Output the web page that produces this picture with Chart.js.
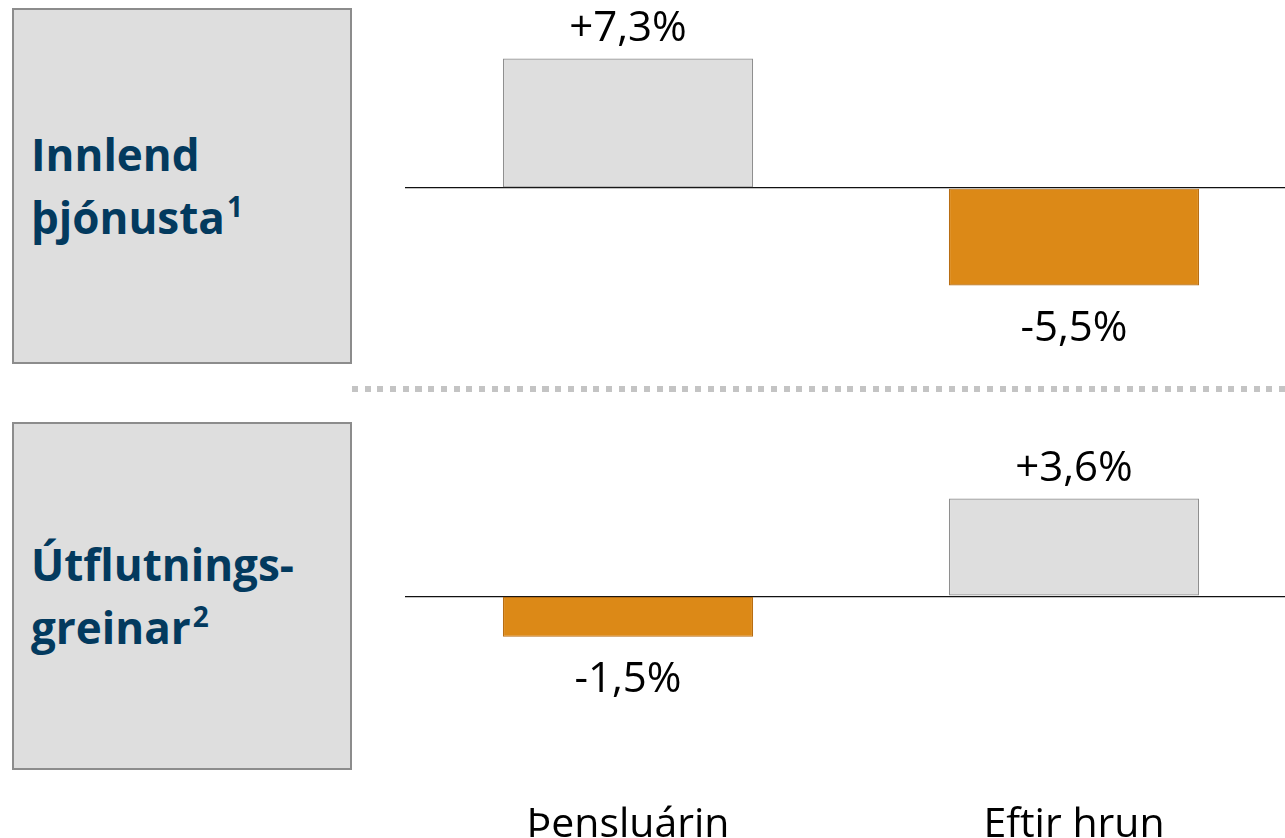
<!DOCTYPE html>
<html>
<head>
<meta charset="utf-8">
<script src="https://cdn.jsdelivr.net/npm/chart.js@4"></script>
<style>
  html, body { margin: 0; padding: 0; background: #fff; overflow: hidden; }
  body { width: 1285px; height: 838px; position: relative; font-family: 'Open Sans', sans-serif; }
  .box {
    position: absolute; left: 12px; width: 340px; box-sizing: border-box;
    background: #dedede; border: 2px solid #8c8c8c;
  }
  .box-label {
    position: absolute; left: 31px; font-weight: bold; font-size: 44px;
    line-height: 63px; color: #033a5e; white-space: nowrap;
  }
  .box-label .sup { font-size: 28px; position: relative; top: -17px; margin-left: 2px; }
  .divider {
    position: absolute; left: 352px; top: 386px; width: 933px; height: 6px;
    background: repeating-linear-gradient(to right, #c4c4c4 0 6px, transparent 6px 12.7px);
  }
  canvas { position: absolute; }
</style>
</head>
<body>
<div class="box" style="top:8px;height:356px"></div>
<div class="box" style="top:422px;height:348px"></div>
<div class="box-label" style="top:123px">Innlend<br>þjónusta<span class="sup">1</span></div>
<div class="box-label" style="top:533px">Útflutnings-<br>greinar<span class="sup">2</span></div>
<div class="divider"></div>

<canvas id="top-chart" width="892" height="376" style="left:405px;top:0px"></canvas>
<canvas id="bottom-chart" width="892" height="430" style="left:405px;top:420px"></canvas>

<script>
const categories = ['Þensluárin', 'Eftir hrun'];
const innlendValues = [7.3, -5.5];
const utflutningsValues = [-1.5, 3.6];

const grayFill = '#dedede';
const grayBorder = '#8f8f8f';
const orangeFill = '#dc8917';
const orangeBorder = '#b86d12';

const fmtPct = (v) => (v > 0 ? '+' : '') + v.toFixed(1).replace('.', ',') + '%';

// draws the value label above positive bars and below negative ones
const valueLabels = {
  id: 'valueLabels',
  afterDatasetsDraw(chart) {
    const ctx = chart.ctx;
    const values = chart.data.datasets[0].data;
    ctx.save();
    ctx.font = '42px "Open Sans"';
    ctx.fillStyle = '#000';
    ctx.textAlign = 'center';
    ctx.textBaseline = 'alphabetic';
    chart.getDatasetMeta(0).data.forEach((bar, i) => {
      const v = values[i];
      const y = v >= 0 ? bar.y - 18 : bar.y + 55;
      ctx.fillText(fmtPct(v), bar.x, y);
    });
    ctx.restore();
  }
};

function barConfig (values, yMin, yMax, showCategories) {
  return {
    type: 'bar',
    data: {
      labels: categories,
      datasets: [{
        data: values,
        backgroundColor: values.map(v => v >= 0 ? grayFill : orangeFill),
        borderColor: values.map(v => v >= 0 ? grayBorder : orangeBorder),
        borderWidth: 1.2,
        borderSkipped: false,
        barPercentage: 0.561,
        categoryPercentage: 1
      }]
    },
    options: {
      responsive: false,
      animation: false,
      layout: { padding: 0 },
      plugins: { legend: { display: false }, tooltip: { enabled: false } },
      scales: {
        x: {
          display: showCategories,
          grid: { display: false, drawTicks: false },
          border: { display: false },
          ticks: { padding: 0, color: '#000', font: { family: 'Open Sans', size: 41 } }
        },
        y: {
          min: yMin,
          max: yMax,
          afterBuildTicks: (axis) => { axis.ticks = [{ value: 0 }]; },
          grid: { color: '#111', lineWidth: 1.3, drawTicks: false },
          border: { display: false },
          ticks: { display: false }
        }
      }
    },
    plugins: [valueLabels]
  };
}

new Chart(document.getElementById('top-chart'), barConfig(innlendValues, -10.6, 10.6, false));
new Chart(document.getElementById('bottom-chart'), barConfig(utflutningsValues, -7.55, 6.5, true));
</script>
</body>
</html>
